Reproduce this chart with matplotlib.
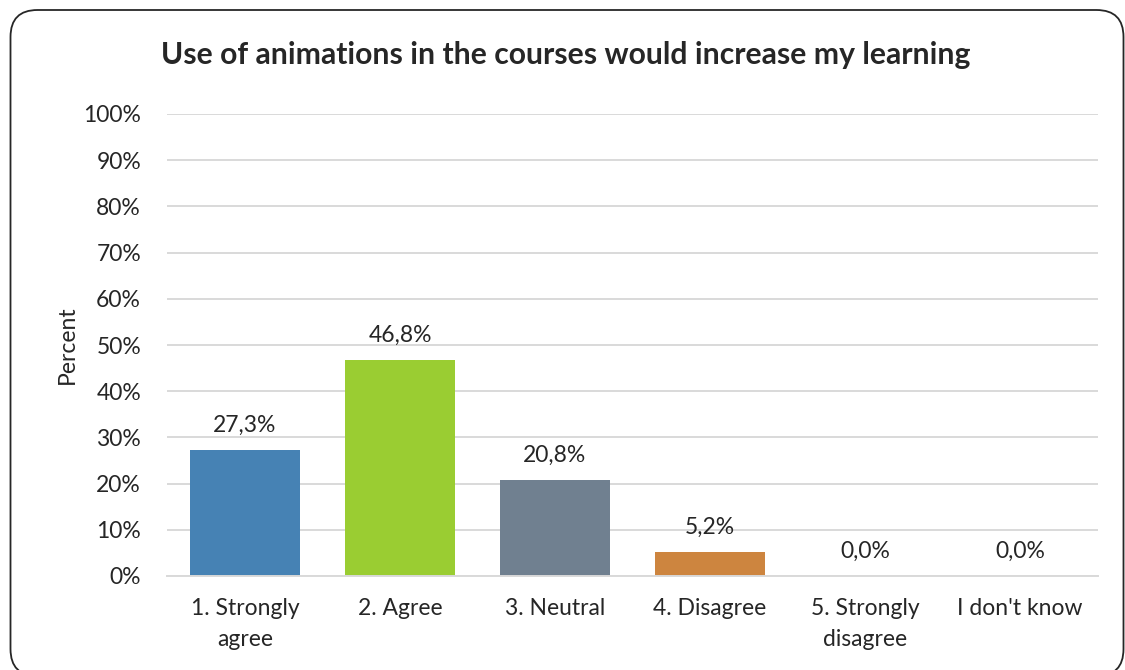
import numpy as np
import matplotlib
matplotlib.use('Agg')
import matplotlib.pyplot as plt
from matplotlib.patches import FancyBboxPatch

categories = ['1. Strongly\nagree', '2. Agree', '3. Neutral', '4. Disagree',
              '5. Strongly\ndisagree', "I don't know"]
values = [27.3, 46.8, 20.8, 5.2, 0.0, 0.0]
colors = ['#4682B4', '#9ACD32', '#708090', '#CD853F', '#A9A9A9', '#A9A9A9']
yticks = np.arange(0, 101, 10)

plt.rcParams['font.family'] = ['Lato', 'DejaVu Sans']
text_col = '#262626'
fs = 16.5

fig = plt.figure(figsize=(11.25, 6.7), dpi=100)
ax = fig.add_axes([167.5 / 1125, 1 - 576 / 670, 930 / 1125, 462 / 670])

# rounded frame around the whole chart
frame = FancyBboxPatch((10.5 / 1125, -6 / 670), 1113 / 1125, 666 / 670,
                       boxstyle='round,pad=0,rounding_size=0.024',
                       transform=fig.transFigure, facecolor='none',
                       edgecolor='#262626', linewidth=1.3, mutation_aspect=1125 / 670)
fig.patches.append(frame)

x = np.arange(len(categories))
ax.bar(x, values, width=0.716, color=colors, zorder=2)

for xi, v in zip(x, values):
    ax.text(xi, v + 3.0, f'{v:.1f}%'.replace('.', ','), ha='center', va='bottom',
            fontsize=fs, color=text_col)

ax.set_xlim(-0.5, len(categories) - 0.5)
ax.set_ylim(0, 100)
ax.set_yticks(yticks)
ax.set_yticklabels([f'{t}%' for t in yticks], fontsize=fs, color=text_col)
ax.set_xticks(x)
ax.set_xticklabels(categories, fontsize=fs, color=text_col, linespacing=1.6)
ax.tick_params(axis='x', length=0, pad=16)
ax.tick_params(axis='y', length=0, pad=19)
ax.grid(axis='y', color='#D9D9D9', linewidth=1.4, zorder=0)
for s in ['top', 'right', 'left']:
    ax.spines[s].set_visible(False)
ax.spines['bottom'].set_color('#D9D9D9')
ax.spines['bottom'].set_linewidth(1.4)

ax.set_ylabel('Percent', fontsize=fs, color=text_col, labelpad=4)
fig.text(566 / 1125, 1 - 55 / 670, 'Use of animations in the courses would increase my learning',
         ha='center', va='center', fontsize=21.7, fontweight='bold', color=text_col)

fig.savefig('out.png', dpi=100)
